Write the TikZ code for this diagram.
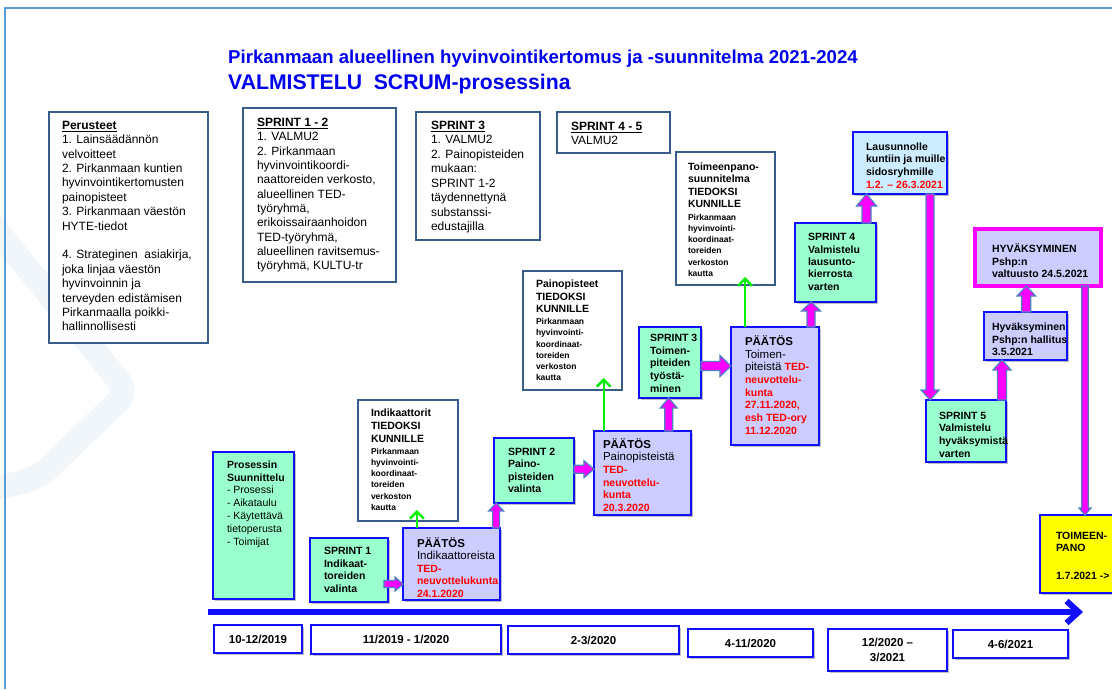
\documentclass[tikz,border=0pt]{standalone}
\usepackage{fontspec}
\setmainfont{Liberation Sans}
\usetikzlibrary{calc,arrows.meta,shadows}

\definecolor{mintC}{HTML}{99FFCC}
\definecolor{lavC}{HTML}{CCCCFF}
\definecolor{skyC}{HTML}{CCECFF}
\definecolor{yelC}{HTML}{FFFF00}
\definecolor{bdBlue}{HTML}{1010FF}
\definecolor{infoBd}{HTML}{385D8A}
\definecolor{magC}{HTML}{FF00FF}
\definecolor{steelC}{HTML}{4F81BD}
\definecolor{grnC}{HTML}{00F000}
\definecolor{redC}{HTML}{FF0000}
\definecolor{titleC}{HTML}{0000EE}
\definecolor{frameC}{HTML}{5B9BD5}
\definecolor{logoC}{HTML}{F1F6FB}

% text block: width, height, left pad, first baseline, font, content
\newcommand\tb[6]{\parbox[c][#2pt][t]{#1pt}{#5\lineskiplimit=-100pt\raggedright\leftskip=#3pt\rightskip=-200pt plus 1fil\relax\vspace*{\dimexpr#4pt-\baselineskip\relax}\hbox{}#6\par}}
\newcommand\rd[1]{{\color{redC}\bfseries\fontsize{10.5}{12.6}\selectfont #1}}
\newcommand\fB[1]{\fontsize{10.5}{#1}\selectfont\bfseries}
\newcommand\fR[2]{\fontsize{#1}{#2}\selectfont}

% block arrows (start, end, half shaft, half head, head length)
\newcommand\upar[5]{\draw[blk] let \p1=#1, \p2=#2 in (\x1-#3pt,\y1) -- (\x1-#3pt,\y2-#5pt) -- (\x1-#4pt,\y2-#5pt) -- (\x1,\y2) -- (\x1+#4pt,\y2-#5pt) -- (\x1+#3pt,\y2-#5pt) -- (\x1+#3pt,\y1) -- cycle;}
\newcommand\dnar[5]{\draw[blk] let \p1=#1, \p2=#2 in (\x1-#3pt,\y1) -- (\x1-#3pt,\y2+#5pt) -- (\x1-#4pt,\y2+#5pt) -- (\x1,\y2) -- (\x1+#4pt,\y2+#5pt) -- (\x1+#3pt,\y2+#5pt) -- (\x1+#3pt,\y1) -- cycle;}
\newcommand\rtar[5]{\draw[blk] let \p1=#1, \p2=#2 in (\x1,\y1-#3pt) -- (\x2-#5pt,\y1-#3pt) -- (\x2-#5pt,\y1-#4pt) -- (\x2,\y1) -- (\x2-#5pt,\y1+#4pt) -- (\x2-#5pt,\y1+#3pt) -- (\x1,\y1+#3pt) -- cycle;}

\begin{document}
\begin{tikzpicture}[x=1pt,y=-1pt,
  base/.style={anchor=north west, inner sep=0pt, outer sep=0pt},
  shd/.style={drop shadow={shadow xshift=1.5pt,shadow yshift=-1.5pt,opacity=0.25,fill=black}},
  infobox/.style={base, draw=infoBd, line width=1.6pt, fill=white},
  mint/.style={base, draw=bdBlue, line width=1.8pt, fill=mintC, shd},
  lav/.style={base, draw=bdBlue, line width=1.8pt, fill=lavC, shd},
  sky/.style={base, draw=bdBlue, line width=1.8pt, fill=skyC, shd},
  yel/.style={base, draw=bdBlue, line width=1.8pt, fill=yelC, shd},
  magbox/.style={base, draw=magC, line width=4pt, fill=lavC, shd},
  datebox/.style={base, draw=bdBlue, line width=1.8pt, fill=white, shd, align=center, font=\fontsize{11.5}{15}\selectfont\bfseries},
  blk/.style={fill=magC, draw=steelC, line width=1.2pt, line join=miter},
  grn/.style={draw=grnC, line width=2.4pt, -{Straight Barb[length=7pt,width=14pt]}},
  tline/.style={draw=bdBlue, line width=6pt, -{Straight Barb[length=12pt,width=22pt]}},
  ttl/.style={anchor=base west, inner sep=0pt, text=titleC}
]
\useasboundingbox (0,0) rectangle (1112,689);
\fill[white] (0,0) rectangle (1112,689);
% faint background logo band
\draw[logoC, line width=24pt, rounded corners=14pt] (-10,222) -- (128,392) -- (38,478) -- (-10,490);
% frame
\draw[frameC, line width=2.5pt] (1112,8) -- (5,8) -- (5,689);

% titles
\node[ttl, font=\fontsize{18.6}{22}\selectfont\bfseries] (t1) at (228,63) {Pirkanmaan alueellinen hyvinvointikertomus ja -suunnitelma 2021-2024};
\node[ttl, font=\fontsize{21.2}{25}\selectfont\bfseries] (t2) at (228,89) {VALMISTELU\ \ SCRUM-prosessina};

% info boxes
\node[infobox] (pb) at (49,112) {\tb{159}{231}{13}{17.3}{\fR{12}{14.4}}{\underline{\textbf{Perusteet}}\\1. Lainsäädännön\\velvoitteet\\2. Pirkanmaan kuntien\\hyvinvointikertomusten\\painopisteet\\3. Pirkanmaan väestön\\HYTE-tiedot\\[14.4pt]4. Strateginen\ \ asiakirja,\\joka linjaa väestön\\hyvinvoinnin ja\\terveyden edistämisen\\Pirkanmaalla poikki-\\hallinnollisesti}};
\node[infobox] (s12) at (243,108) {\tb{153}{174}{14}{18.6}{\fR{12}{14.3}}{\underline{\textbf{SPRINT 1 - 2}}\\1. VALMU2\\2. Pirkanmaan\\hyvinvointikoordi-\\naattoreiden verkosto,\\alueellinen TED-\\työryhmä,\\erikoissairaanhoidon\\TED-työryhmä,\\alueellinen ravitsemus-\\työryhmä, KULTU-tr}};
\node[infobox] (s3t) at (416,112) {\tb{124}{128}{15}{17.3}{\fR{12}{14.5}}{\underline{\textbf{SPRINT 3}}\\1. VALMU2\\2. Painopisteiden\\mukaan:\\SPRINT 1-2\\täydennettynä\\substanssi-\\edustajilla}};
\node[infobox] (s45t) at (557,112) {\tb{113}{41}{14}{18.3}{\fR{12}{14.4}}{\underline{\textbf{SPRINT 4 - 5}}\\VALMU2}};

% TIEDOKSI boxes
\node[infobox] (tk3) at (676,152) {\tb{99}{133}{12}{18.5}{\fB{12.4}}{Toimeenpano-\\suunnitelma\\TIEDOKSI\\KUNNILLE\par\vspace{1pt}\fontsize{8.5}{11.3}\selectfont Pirkanmaan\\hyvinvointi-\\koordinaat-\\toreiden\\verkoston\\kautta}};
\node[infobox] (tk2) at (523,271) {\tb{99}{119}{13}{16.5}{\fB{12.5}}{Painopisteet\\TIEDOKSI\\KUNNILLE\par\vspace{1pt}\fontsize{8.5}{11.2}\selectfont Pirkanmaan\\hyvinvointi-\\koordinaat-\\toreiden\\verkoston\\kautta}};
\node[infobox] (tk1) at (358,400) {\tb{100}{121}{13}{16.8}{\fB{12.6}}{Indikaattorit\\TIEDOKSI\\KUNNILLE\par\vspace{1pt}\fontsize{8.5}{11.2}\selectfont Pirkanmaan\\hyvinvointi-\\koordinaat-\\toreiden\\verkoston\\kautta}};

% process boxes
\node[sky] (lau) at (853,132) {\tb{94}{62}{13}{18.2}{\fB{12.6}}{Lausunnolle\\kuntiin ja muille\\sidosryhmille\\\textcolor{redC}{1.2. – 26.3.2021}}};
\node[mint] (sp4) at (795,223) {\tb{81}{79}{13}{17.8}{\fB{12.3}}{SPRINT 4\\Valmistelu\\lausunto-\\kierrosta\\varten}};
\node[magbox] (hyv) at (975,229) {\tb{126}{57}{17}{23.5}{\fB{12.5}}{HYVÄKSYMINEN\\Pshp:n\\valtuusto 24.5.2021}};
\node[lav] (hal) at (984,312) {\tb{83}{48}{8}{18.5}{\fB{12.5}}{Hyväksyminen\\Pshp:n hallitus\\3.5.2021}};
\node[mint] (sp5) at (926,400) {\tb{80}{62}{13}{19.2}{\fB{12.6}}{SPRINT 5\\Valmistelu\\hyväksymistä\\varten}};
\node[lav] (pto) at (731,327) {\tb{88}{118}{14}{18.5}{\fR{11.5}{12.7}}{\textbf{PÄÄTÖS}\\Toimen-\\piteistä \rd{TED-}\\\rd{neuvottelu-\\kunta\\27.11.2020,\\esh TED-ory\\11.12.2020}}};
\node[mint] (sp3) at (639,327) {\tb{62}{71}{11}{14.5}{\fB{12.7}}{SPRINT 3\\Toimen-\\piteiden\\työstä-\\minen}};
\node[lav] (pp) at (594,431) {\tb{97}{84}{9}{17.2}{\fR{11.5}{12.7}}{\textbf{PÄÄTÖS}\\Painopisteistä\\\rd{TED-\\neuvottelu-\\kunta\\20.3.2020}}};
\node[mint] (sp2) at (494,438) {\tb{80}{65}{14}{17.2}{\fB{12.5}}{SPRINT 2\\Paino-\\pisteiden\\valinta}};
\node[lav] (pind) at (403,528) {\tb{97}{72}{14}{19.2}{\fR{11.5}{12.5}}{\textbf{PÄÄTÖS}\\Indikaattoreista\\\rd{TED-\\neuvottelukunta\\24.1.2020}}};
\node[mint] (sp1) at (310,538) {\tb{78}{64}{14}{16.8}{\fB{12.4}}{SPRINT 1\\Indikaat-\\toreiden\\valinta}};
\node[mint] (pros) at (213,452) {\tb{81}{147}{14}{16.2}{\fR{10.5}{12.8}}{\textbf{Prosessin}\\\textbf{Suunnittelu}\\- Prosessi\\- Aikataulu\\- Käytettävä\\tietoperusta\\- Toimijat}};
\node[yel] (toim) at (1040,515) {\tb{80}{78}{16}{24.2}{\fB{12.3}}{TOIMEEN-\\PANO\\[16pt]1.7.2021 ->}};

% date boxes
\node[datebox, minimum width=88pt, minimum height=28pt] (d1) at (214,625) {10-12/2019};
\node[datebox, minimum width=190pt, minimum height=29pt] (d2) at (311,625) {11/2019 - 1/2020};
\node[datebox, minimum width=171pt, minimum height=28pt] (d3) at (508,626) {2-3/2020};
\node[datebox, minimum width=125pt, minimum height=28pt] (d4) at (688,629) {4-11/2020};
\node[datebox, minimum width=119pt, minimum height=42pt] (d5) at (828,629) {12/2020 –\\3/2021};
\node[datebox, minimum width=115pt, minimum height=28pt] (d6) at (953,630) {4-6/2021};

% timeline
\coordinate (tl0) at (208,612);
\coordinate (tl1) at (1083,612);
\draw[tline] (tl0) -- (tl1);

% green arrows
\coordinate (ga) at ($(pind.north west)!0.144!(pind.north east)$);
\coordinate (gb) at ($(pp.north west)!0.10!(pp.north east)$);
\coordinate (gc) at ($(pto.north west)!0.16!(pto.north east)$);
\draw[grn, shorten >=-11pt] (ga) -- (ga |- tk1.south);
\draw[grn, shorten >=-12pt] (gb) -- (gb |- tk2.south);
\draw[grn, shorten >=-8pt] (gc) -- (gc |- tk3.south);

% magenta block arrows
\coordinate (a0) at ($(sp1.north east)!0.72!(sp1.south east)+(-4,0)$);
\coordinate (b0) at ($(pind.north west)!0.96!(pind.north east)$);
\coordinate (c0) at ($(sp2.north east)!0.48!(sp2.south east)$);
\coordinate (d0) at ($(pp.north west)!0.77!(pp.north east)$);
\coordinate (e0) at ($(sp3.north east)!0.55!(sp3.south east)$);
\coordinate (f0) at ($(pto.north west)!0.91!(pto.north east)$);
\coordinate (g0) at ($(sp4.north west)!0.883!(sp4.north east)$);
\coordinate (h0) at ($(lau.south west)!0.82!(lau.south east)$);
\coordinate (i0) at ($(sp5.north west)!0.95!(sp5.north east)$);
\coordinate (j0) at ($(hal.north west)!0.51!(hal.north east)$);
\coordinate (k0) at ($(hyv.south west)!0.873!(hyv.south east)$);
\rtar{(a0)}{(pind.west)}{3.5}{7}{8}
\upar{(b0)}{(sp2.south)}{3.5}{7.5}{8}
\rtar{(c0)}{(pp.west)}{4}{8.5}{10}
\upar{(d0)}{(sp3.south)}{4}{8.5}{10}
\rtar{(e0)}{(pto.west)}{4.5}{10.5}{11}
\upar{(f0)}{(sp4.south)}{4}{9.5}{9}
\upar{(g0)}{(lau.south)}{4.5}{10}{12}
\dnar{(h0)}{(sp5.north)}{4}{9}{10}
\upar{(i0)}{(hal.south)}{4.5}{9}{10}
\upar{(j0)}{(hyv.south)}{4.5}{9.3}{10}
\dnar{(k0)}{(toim.north)}{3.3}{6}{7}
\end{tikzpicture}
\end{document}
